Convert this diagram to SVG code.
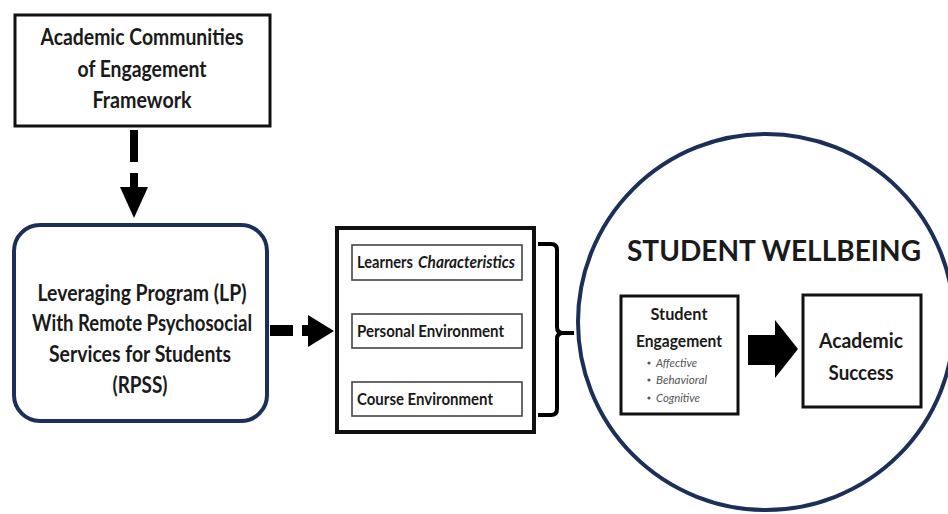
<svg xmlns="http://www.w3.org/2000/svg" width="948" height="514" viewBox="0 0 948 514">
  <style>
    .t { font-family: Lato, "Open Sans", "Liberation Sans", sans-serif; font-weight: 700; fill: #1a1a1a; }
    .c { text-anchor: middle; }
    .box { fill: #ffffff; stroke: #111111; }
    .navy { fill: #ffffff; stroke: #1b2f58; }
    .ink { fill: #000000; }
    .bul { font-family: Lato, "Open Sans", "Liberation Sans", sans-serif; font-size: 11px; font-style: italic; fill: #555555; }
  </style>

  <rect width="948" height="514" fill="#ffffff"/>

  <!-- framework box -->
  <g id="framework">
    <rect class="box" x="15" y="15" width="255" height="111" stroke-width="3"/>
    <text class="t c" x="142" y="45" font-size="23" textLength="203" lengthAdjust="spacingAndGlyphs">Academic Communities</text>
    <text class="t c" x="142" y="77" font-size="23" textLength="129" lengthAdjust="spacingAndGlyphs">of Engagement</text>
    <text class="t c" x="142" y="108" font-size="23" textLength="99" lengthAdjust="spacingAndGlyphs">Framework</text>
  </g>

  <!-- leveraging program box -->
  <g id="program">
    <rect class="navy" x="14" y="225" width="253" height="196" rx="26" ry="26" stroke-width="4"/>
    <text class="t c" x="142" y="301" font-size="23" textLength="209" lengthAdjust="spacingAndGlyphs">Leveraging Program (LP)</text>
    <text class="t c" x="142" y="331" font-size="23" textLength="220" lengthAdjust="spacingAndGlyphs">With Remote Psychosocial</text>
    <text class="t c" x="140" y="362" font-size="23" textLength="182" lengthAdjust="spacingAndGlyphs">Services for Students</text>
    <text class="t c" x="140" y="393" font-size="23" textLength="55" lengthAdjust="spacingAndGlyphs">(RPSS)</text>
  </g>

  <!-- factors box -->
  <g id="factors">
    <rect class="box" x="337" y="228" width="197" height="204" stroke-width="4"/>
    <rect x="352" y="245" width="170" height="35" fill="#ffffff" stroke="#444444" stroke-width="1.6"/>
    <rect x="352" y="314" width="170" height="34" fill="#ffffff" stroke="#444444" stroke-width="1.6"/>
    <rect x="352" y="382" width="170" height="34" fill="#ffffff" stroke="#444444" stroke-width="1.6"/>
    <text class="t" x="357" y="268" font-size="17" textLength="56" lengthAdjust="spacingAndGlyphs">Learners</text>
    <text class="t" x="418" y="268" font-size="17" font-style="italic" textLength="97" lengthAdjust="spacingAndGlyphs">Characteristics</text>
    <text class="t" x="357" y="337" font-size="17" textLength="147" lengthAdjust="spacingAndGlyphs">Personal Environment</text>
    <text class="t" x="357" y="405" font-size="17" textLength="136" lengthAdjust="spacingAndGlyphs">Course Environment</text>
  </g>

  <!-- wellbeing circle -->
  <g id="wellbeing">
    <circle cx="766" cy="322" r="188" fill="#ffffff" stroke="#1b2f58" stroke-width="4"/>
    <text class="t" x="627" y="261" font-size="29" textLength="294" lengthAdjust="spacingAndGlyphs">STUDENT WELLBEING</text>
  </g>

  <g id="engagement">
    <rect class="box" x="621" y="296" width="117" height="118" stroke-width="3"/>
    <text class="t c" x="679" y="320" font-size="17" textLength="57" lengthAdjust="spacingAndGlyphs">Student</text>
    <text class="t c" x="679" y="347" font-size="17" textLength="86" lengthAdjust="spacingAndGlyphs">Engagement</text>
    <circle cx="649" cy="363" r="1.6" fill="#555555"/>
    <circle cx="649" cy="380" r="1.6" fill="#555555"/>
    <circle cx="649" cy="398" r="1.6" fill="#555555"/>
    <text class="bul" x="656" y="367" textLength="41" lengthAdjust="spacingAndGlyphs">Affective</text>
    <text class="bul" x="656" y="384" textLength="51" lengthAdjust="spacingAndGlyphs">Behavioral</text>
    <text class="bul" x="656" y="402" textLength="44" lengthAdjust="spacingAndGlyphs">Cognitive</text>
  </g>

  <g id="success">
    <rect class="box" x="803" y="295" width="118" height="112" stroke-width="3"/>
    <text class="t c" x="861" y="348" font-size="21" textLength="84" lengthAdjust="spacingAndGlyphs">Academic</text>
    <text class="t c" x="861" y="380" font-size="21" textLength="65" lengthAdjust="spacingAndGlyphs">Success</text>
  </g>

  <!-- connectors -->
  <g id="connectors">
    <!-- framework to program (dashed, downward) -->
    <rect class="ink" x="130" y="130" width="8" height="32"/>
    <rect class="ink" x="130" y="173" width="8" height="15"/>
    <polygon class="ink" points="120,187 148,187 134,218"/>
    <!-- program to factors (dashed, rightward) -->
    <rect class="ink" x="270" y="325" width="23" height="11"/>
    <rect class="ink" x="302" y="325" width="7" height="11"/>
    <polygon class="ink" points="308,315 308,347 334,331"/>
    <!-- bracket gathering the factors -->
    <path d="M538,244 H551 Q557,244 557,250 V327 Q557,333 563,333 H574 M563,333 Q557,333 557,339 V409 Q557,415 551,415 H538" fill="none" stroke="#000000" stroke-width="4"/>
    <!-- engagement to success -->
    <rect class="ink" x="748" y="335" width="28" height="30"/>
    <polygon class="ink" points="775,320 775,378 798,349"/>
  </g>
</svg>
